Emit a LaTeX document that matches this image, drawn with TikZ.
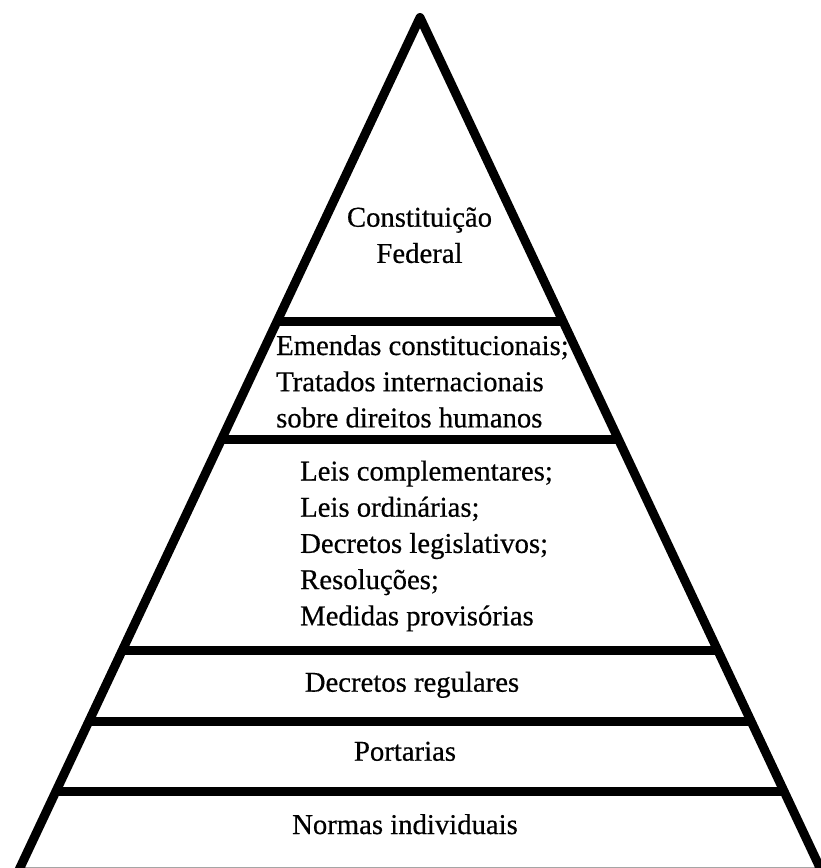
\documentclass[tikz,border=0pt]{standalone}
\usepackage{fontspec}
\setmainfont{Liberation Serif}[FakeBold=0.5]
\usetikzlibrary{calc}
\begin{document}
\begin{tikzpicture}[x=1pt,y=-1pt,
  edge/.style={line width=9pt, line join=round},
  sep/.style={line width=9pt},
  lbl/.style={inner sep=0pt, font=\fontsize{28.7}{36.2}\selectfont}]
\useasboundingbox (0,0) rectangle (821,868);
\fill[white] (0,0) rectangle (821,868);
\coordinate (A) at (420,17.5);
\coordinate (BL) at (18,872);
\coordinate (BR) at (822,872);
\draw[edge] (A) -- (BL) -- (BR) -- cycle;
% separators
\foreach \t [count=\i] in {0.3558,0.4944,0.7408,0.8233,0.9058}{
  \coordinate (l\i) at ($(A)!\t!(BL)$);
  \coordinate (r\i) at ($(A)!\t!(BR)$);
  \draw[sep] (l\i) -- (r\i);
}
% labels
\node[lbl, anchor=base] (cf) at (419.5,226.7)
  {\begin{tabular}[t]{@{}c@{}}Constituição\\Federal\end{tabular}};
\node[lbl, anchor=base west] (em) at (276,355)
  {\begin{tabular}[t]{@{}l@{}}Emendas constitucionais;\\Tratados internacionais\\sobre direitos humanos\end{tabular}};
\node[lbl, anchor=base west] (leis) at (300,480.5)
  {\begin{tabular}[t]{@{}l@{}}Leis complementares;\\Leis ordinárias;\\Decretos legislativos;\\Resoluções;\\Medidas provisórias\end{tabular}};
\node[lbl, anchor=base] (dr) at (412,691.7) {Decretos regulares};
\node[lbl, anchor=base] (pt) at (405,760.7) {Portarias};
\node[lbl, anchor=base] (ni) at (405,834) {Normas individuais};
\end{tikzpicture}
\end{document}
